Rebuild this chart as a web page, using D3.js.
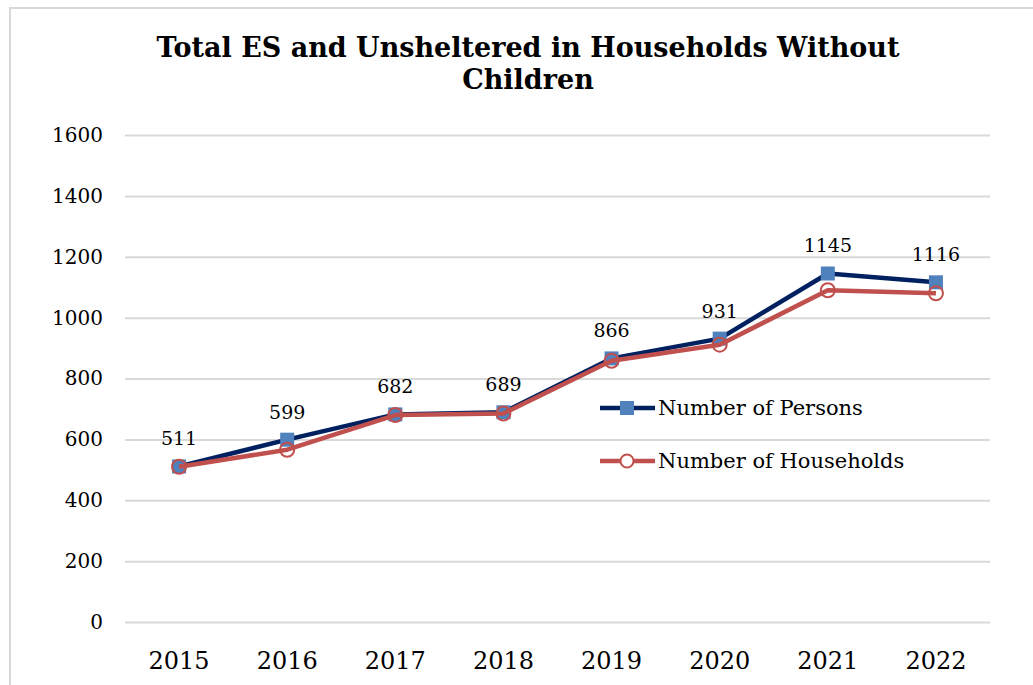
<!DOCTYPE html>
<html>
<head>
<meta charset="utf-8">
<script src="https://cdn.jsdelivr.net/npm/d3@7"></script>
<style>
  html, body { margin: 0; padding: 0; background: #fff; }
  svg { display: block; }
  text { font-family: "DejaVu Serif", Georgia, serif; fill: #000; }
</style>
</head>
<body>
<svg id="chart" width="1033" height="685"></svg>
<script>
const years = ["2015", "2016", "2017", "2018", "2019", "2020", "2021", "2022"];
const persons = [511, 599, 682, 689, 866, 931, 1145, 1116];
const households = [510, 566, 680, 685, 858, 911, 1090, 1080];
const yTicks = [0, 200, 400, 600, 800, 1000, 1200, 1400, 1600];
const titleLines = ["Total ES and Unsheltered in Households Without", "Children"];
const seriesNames = ["Number of Persons", "Number of Households"];

const W = 1033, H = 685;
const svg = d3.select("#chart");

// outer border
svg.append("rect").attr("x", 10).attr("y", 8).attr("width", W + 20).attr("height", H + 20)
  .attr("fill", "#fff").attr("stroke", "#d9d9d9").attr("stroke-width", 2);

const plot = { left: 125, right: 990, top: 135, bottom: 622 };

const x = d3.scaleBand().domain(years).range([plot.left, plot.right]);
const y = d3.scaleLinear().domain([0, 1600]).range([plot.bottom, plot.top]);

// title
svg.append("text").attr("text-anchor", "middle")
  .attr("font-weight", "bold").attr("font-size", 27)
  .selectAll("tspan").data(titleLines).join("tspan")
  .attr("x", 528).attr("y", (d, i) => 57 + i * 32).text(d => d);

// grid + y axis
const yAxis = d3.axisLeft(y).tickValues(yTicks).tickSize(-(plot.right - plot.left)).tickPadding(22).tickFormat(d3.format("d"));
const gy = svg.append("g").attr("transform", `translate(${plot.left},0)`).call(yAxis);
gy.select(".domain").remove();
gy.selectAll(".tick line").attr("stroke", "#d9d9d9").attr("stroke-width", 2);
gy.selectAll(".tick text").attr("font-size", 20).attr("font-family", "DejaVu Serif, serif").attr("fill", "#000");

// x axis
const xAxis = d3.axisBottom(x).tickSize(0).tickPadding(30);
const gx = svg.append("g").attr("transform", `translate(0,${plot.bottom})`).call(xAxis);
gx.select(".domain").remove();
gx.selectAll(".tick text").attr("font-size", 24).attr("font-family", "DejaVu Serif, serif").attr("fill", "#000");

const cx = d => x(d) + x.bandwidth() / 2;
const line = d3.line().x(d => cx(d.year)).y(d => y(d.v));

const pData = years.map((yr, i) => ({ year: yr, v: persons[i] }));
const hData = years.map((yr, i) => ({ year: yr, v: households[i] }));

const navy = "#002060", blue = "#4F81BD", red = "#C0504D";

// persons
svg.append("path").datum(pData).attr("d", line).attr("fill", "none")
  .attr("stroke", navy).attr("stroke-width", 4.5).attr("stroke-linejoin", "round");
svg.append("g").selectAll("rect").data(pData).join("rect")
  .attr("x", d => cx(d.year) - 7).attr("y", d => y(d.v) - 7)
  .attr("width", 14).attr("height", 14).attr("fill", blue);

// households
svg.append("path").datum(hData).attr("d", line).attr("fill", "none")
  .attr("stroke", red).attr("stroke-width", 4.5).attr("stroke-linejoin", "round");
svg.append("g").selectAll("circle").data(hData).join("circle")
  .attr("cx", d => cx(d.year)).attr("cy", d => y(d.v)).attr("r", 7)
  .attr("fill", "none").attr("stroke", red).attr("stroke-width", 2);

// data labels
svg.append("g").selectAll("text").data(pData).join("text")
  .attr("x", d => cx(d.year)).attr("y", d => y(d.v) - 21)
  .attr("text-anchor", "middle").attr("font-size", 19).text(d => d.v);

// legend
const legend = svg.append("g");
const legY = [408, 461];
legend.append("line").attr("x1", 600).attr("x2", 655).attr("y1", legY[0]).attr("y2", legY[0])
  .attr("stroke", navy).attr("stroke-width", 4.5);
legend.append("rect").attr("x", 620).attr("y", legY[0] - 7).attr("width", 14).attr("height", 14).attr("fill", blue);
legend.append("line").attr("x1", 600).attr("x2", 655).attr("y1", legY[1]).attr("y2", legY[1])
  .attr("stroke", red).attr("stroke-width", 4.5);
legend.append("circle").attr("cx", 627).attr("cy", legY[1]).attr("r", 6.5)
  .attr("fill", "#fff").attr("stroke", red).attr("stroke-width", 2);
legend.selectAll("text").data(seriesNames).join("text")
  .attr("x", 658).attr("y", (d, i) => legY[i] + 7).attr("font-size", 21).text(d => d);
</script>
</body>
</html>
